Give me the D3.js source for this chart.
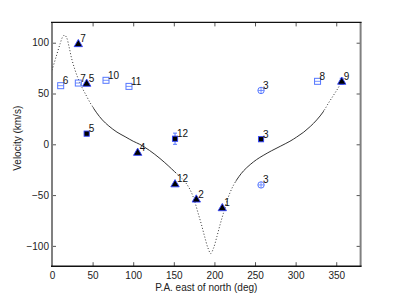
<!DOCTYPE html>
<html>
<head>
<meta charset="utf-8">
<script src="https://cdn.jsdelivr.net/npm/d3@7"></script>
<style>
  body { margin: 0; background: #fff; }
  svg { display: block; font-family: "Liberation Sans", Arial, Helvetica, sans-serif; }
</style>
</head>
<body>
<svg id="chart" width="398" height="300"></svg>
<script>
// filled triangles (black fill, blue edge)
const triPA = [32.4, 42.7, 105.5, 151.5, 177.7, 209.7, 356.8]
const triV = [99, 60, -8, -39, -54, -62.5, 62]
const triLabel = ['7', '5', '4', '12', '2', '1', '9']
const triErr = [0, 0, 0, 0, 0, 0, 3]

// filled squares
const sqPA = [42.7, 151.5, 257.4]
const sqV = [10.5, 5.5, 5]
const sqLabel = ['5', '12', '3']
const sqErr = [0, 5.5, 0]

// open squares
const openSqPA = [10.7, 32.4, 66.5, 94.8, 327]
const openSqV = [57.7, 60.3, 63, 57, 62]
const openSqLabel = ['6', '7', '10', '11', '8']

// open circles
const circPA = [257.4, 257.4]
const circV = [53, -40]
const circLabel = ['3', '3']

// model curve
const curvePA = [0, 5, 10, 13, 15.5, 18, 21, 24, 28, 32, 36, 40.5, 48, 55, 62, 70, 80, 90, 100, 108, 120, 133, 143, 151, 161.7, 167, 172, 176, 180, 184, 188, 192, 195.5, 199, 203, 207, 211, 215, 219, 224, 230, 236, 244, 252, 260, 270, 281, 293, 301, 310, 318, 326, 334, 340, 346, 352, 357]
const curveV = [73, 86, 99, 105.5, 107.5, 105, 96, 85, 74, 65, 57.5, 50.5, 39.5, 31, 24, 18, 12, 7.5, 3, 0, -6, -14, -21, -27, -35, -40.5, -48, -57, -68, -79, -91, -102, -107.5, -102, -91, -79, -68, -57, -48, -39.5, -32, -26, -20, -15, -11, -6.5, -2, 3, 7, 12, 17.5, 24, 32, 40, 47.5, 55, 62]
const solidRanges = [[50, 153], [226, 335]]

const xTicks = [0, 50, 100, 150, 200, 250, 300, 350]
const yTicks = [-100, -50, 0, 50, 100]

const width = 398, height = 300
const marginLeft = 52, marginRight = 37.4, marginTop = 22.4, marginBottom = 33.8
const boundWidth = width - marginLeft - marginRight
const boundHeight = height - marginTop - marginBottom

const svg = d3.select('#chart')
const bounds = svg.append('g')
    .attr('transform', `translate(${marginLeft},${marginTop})`)

const xScale = d3.scaleLinear().domain([0, 380]).range([0, boundWidth])
const yScale = d3.scaleLinear().domain([-120, 120]).range([boundHeight, 0])

// axes, ticks pointing inward
bounds.append('g')
    .attr('transform', `translate(0,${boundHeight})`)
    .call(d3.axisBottom(xScale).tickValues(xTicks).tickSize(-4).tickPadding(6))
bounds.append('g')
    .call(d3.axisTop(xScale).tickValues(xTicks).tickSize(-4).tickFormat(''))
bounds.append('g')
    .call(d3.axisLeft(yScale).tickValues(yTicks).tickSize(-4).tickPadding(3))
bounds.append('g')
    .attr('transform', `translate(${boundWidth},0)`)
    .call(d3.axisRight(yScale).tickValues(yTicks).tickSize(-4).tickFormat(''))

bounds.selectAll('.domain').remove()
bounds.selectAll('.tick line').attr('stroke', '#555')
bounds.selectAll('.tick text').attr('font-size', 10).attr('fill', '#222')
    .attr('font-family', '"Liberation Sans", Arial, sans-serif')

// box
bounds.append('line').attr('x1', 0).attr('x2', 0).attr('y1', 0).attr('y2', boundHeight)
    .attr('stroke', '#808080').attr('stroke-width', 2)
bounds.append('line').attr('x1', boundWidth).attr('x2', boundWidth).attr('y1', 0).attr('y2', boundHeight)
    .attr('stroke', '#808080').attr('stroke-width', 2)
bounds.append('line').attr('x1', -1).attr('x2', boundWidth + 1).attr('y1', boundHeight).attr('y2', boundHeight)
    .attr('stroke', '#111').attr('stroke-width', 1.6)
bounds.append('line').attr('x1', -1).attr('x2', boundWidth + 1).attr('y1', 0).attr('y2', 0)
    .attr('stroke', '#111').attr('stroke-width', 1.3)

// curve: solid inside the sampled ranges, dotted elsewhere
const curve = curvePA.map((pa, i) => ({ pa, v: curveV[i] }))
const line = d3.line()
    .x(d => xScale(d.pa))
    .y(d => yScale(d.v))
    .curve(d3.curveCatmullRom.alpha(0.5))

const defs = svg.append('defs')
const solidClip = defs.append('clipPath').attr('id', 'solid-clip')
solidRanges.forEach(r => {
  solidClip.append('rect')
      .attr('x', xScale(r[0])).attr('y', -10)
      .attr('width', xScale(r[1]) - xScale(r[0])).attr('height', boundHeight + 20)
})
const dotClip = defs.append('clipPath').attr('id', 'dot-clip')
const edges = [0].concat(solidRanges.flat(), [380])
for (let i = 0; i < edges.length; i += 2) {
  dotClip.append('rect')
      .attr('x', xScale(edges[i])).attr('y', -10)
      .attr('width', xScale(edges[i + 1]) - xScale(edges[i])).attr('height', boundHeight + 20)
}

bounds.append('path')
    .datum(curve)
    .attr('d', line)
    .attr('clip-path', 'url(#dot-clip)')
    .attr('fill', 'none')
    .attr('stroke', '#333')
    .attr('stroke-width', 1)
    .attr('stroke-dasharray', '1,2')

bounds.append('path')
    .datum(curve)
    .attr('d', line)
    .attr('clip-path', 'url(#solid-clip)')
    .attr('fill', 'none')
    .attr('stroke', '#333')
    .attr('stroke-width', 1)

const blue = '#3344ff'
const lightBlue = '#5577ff'

function errBar(g, x, y, err, color) {
  if (!err) return
  g.append('line').attr('x1', x).attr('x2', x)
      .attr('y1', yScale(y - err)).attr('y2', yScale(y + err))
      .attr('stroke', color).attr('stroke-width', 1)
  ;[y - err, y + err].forEach(e => {
    g.append('line').attr('x1', x - 2).attr('x2', x + 2)
        .attr('y1', yScale(e)).attr('y2', yScale(e))
        .attr('stroke', color).attr('stroke-width', 1)
  })
}

function label(g, x, y, txt) {
  g.append('text')
      .text(txt)
      .attr('x', x + 2)
      .attr('y', y - 1.5)
      .attr('font-size', 10)
      .attr('fill', '#111')
}

const marks = bounds.append('g')

// open squares
openSqPA.forEach((pa, i) => {
  const x = xScale(pa), y = yScale(openSqV[i])
  marks.append('rect').attr('x', x - 3).attr('y', y - 3).attr('width', 6).attr('height', 6)
      .attr('fill', 'none').attr('stroke', lightBlue).attr('stroke-width', 1)
  marks.append('line').attr('x1', x - 3).attr('x2', x + 3).attr('y1', y).attr('y2', y)
      .attr('stroke', lightBlue).attr('stroke-width', 0.8)
  label(marks, x, y, openSqLabel[i])
})

// open circles
circPA.forEach((pa, i) => {
  const x = xScale(pa), y = yScale(circV[i])
  marks.append('circle').attr('cx', x).attr('cy', y).attr('r', 3.2)
      .attr('fill', 'none').attr('stroke', lightBlue).attr('stroke-width', 1)
  marks.append('line').attr('x1', x - 3).attr('x2', x + 3).attr('y1', y).attr('y2', y)
      .attr('stroke', lightBlue).attr('stroke-width', 0.8)
  marks.append('line').attr('x1', x).attr('x2', x).attr('y1', y - 3).attr('y2', y + 3)
      .attr('stroke', lightBlue).attr('stroke-width', 0.8)
  label(marks, x, y, circLabel[i])
})

// filled squares
sqPA.forEach((pa, i) => {
  const x = xScale(pa), y = yScale(sqV[i])
  errBar(marks, x, sqV[i], sqErr[i], lightBlue)
  marks.append('rect').attr('x', x - 2.6).attr('y', y - 2.6).attr('width', 5.2).attr('height', 5.2)
      .attr('fill', '#000').attr('stroke', blue).attr('stroke-width', 0.9)
  label(marks, x, y, sqLabel[i])
})

// filled triangles
const tri = d3.symbol().type(d3.symbolTriangle).size(30)
triPA.forEach((pa, i) => {
  const x = xScale(pa), y = yScale(triV[i])
  errBar(marks, x, triV[i], triErr[i], lightBlue)
  marks.append('path').attr('d', tri)
      .attr('transform', `translate(${x},${y + 0.5})`)
      .attr('fill', '#000').attr('stroke', blue).attr('stroke-width', 0.9)
  label(marks, x, y, triLabel[i])
})

// axis titles
svg.append('text')
    .text('P.A. east of north (deg)')
    .attr('x', marginLeft + boundWidth / 2)
    .attr('y', 291)
    .attr('text-anchor', 'middle')
    .attr('font-size', 10)
    .attr('fill', '#222')

svg.append('text')
    .text('Velocity (km/s)')
    .attr('transform', `translate(20.5,${marginTop + boundHeight / 2 - 6}) rotate(-90)`)
    .attr('text-anchor', 'middle')
    .attr('font-size', 10)
    .attr('fill', '#222')
</script>
</body>
</html>
